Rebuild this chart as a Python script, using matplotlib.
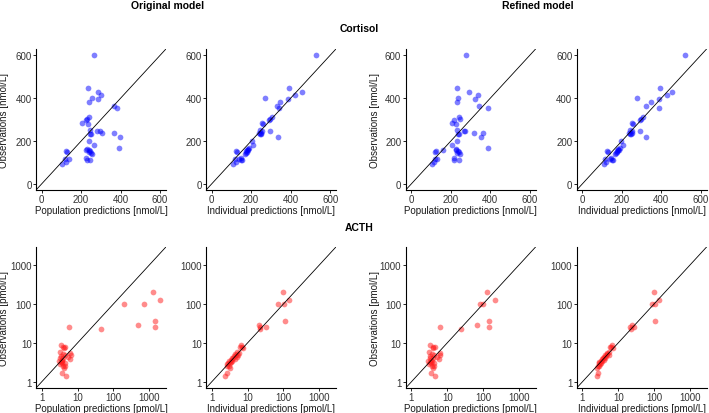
import numpy as np
import matplotlib
matplotlib.use('Agg')
import matplotlib.pyplot as plt
from matplotlib.ticker import FixedLocator, NullLocator

plt.rcParams['font.family'] = ['Liberation Sans', 'DejaVu Sans']

# Cortisol [nmol/L]
cort_obs = [600, 449, 427, 417, 403, 395, 381, 364, 353, 312, 305, 298, 283, 278,
            250, 247, 246, 238, 236, 233, 232, 218, 200, 180, 168, 165, 160, 158,
            155, 150, 145, 142, 152, 151, 120, 118, 118, 112, 112, 103, 92]
cort_pred_orig_pop = [263, 237, 287, 303, 253, 288, 242, 368, 382, 238, 232, 227, 207, 237,
                      243, 280, 297, 368, 305, 248, 243, 395, 238, 263, 390, 232, 223, 240,
                      245, 240, 250, 255, 122, 127, 225, 117, 137, 230, 247, 123, 103]
cort_pred_orig_ind = [528, 393, 458, 420, 272, 387, 347, 332, 342, 305, 298, 292, 255, 260,
                      247, 257, 295, 250, 240, 245, 250, 338, 205, 210, 190, 183, 185, 180,
                      175, 178, 172, 170, 122, 127, 147, 118, 140, 155, 150, 122, 107]
cort_pred_ref_pop = [275, 230, 292, 338, 235, 323, 232, 342, 387, 240, 245, 218, 205, 225,
                     232, 268, 273, 363, 318, 240, 235, 353, 232, 205, 390, 228, 162, 225,
                     235, 240, 230, 245, 123, 120, 217, 118, 130, 218, 240, 115, 105]
cort_pred_ref_ind = [518, 393, 453, 427, 278, 390, 347, 322, 387, 305, 297, 290, 253, 255,
                     243, 252, 293, 250, 237, 245, 240, 322, 198, 205, 190, 183, 185, 180,
                     175, 178, 172, 168, 123, 128, 147, 113, 140, 150, 155, 120, 110]

# ACTH [pmol/L]
acth_obs = [202, 124, 102, 100, 37.5, 28.5, 25.9, 24.9, 22.1,
            8.6, 8.0, 7.8, 7.6, 5.8, 5.6, 5.3, 5.0, 4.8, 4.6, 4.4, 4.2, 4.0,
            3.9, 3.7, 3.5, 3.4, 3.2, 3.1, 3.0, 2.8, 2.6, 2.5, 2.3, 1.73, 1.45]
acth_pred_orig_pop = [1242, 1950, 727, 200, 1414, 473, 1445, 5.94, 45.6,
                      3.5, 4.0, 4.6, 4.2, 3.3, 6.3, 3.9, 6.4, 4.4, 3.4, 5.5, 3.3, 4.0,
                      6.2, 3.6, 3.8, 3.0, 3.4, 3.7, 4.5, 3.3, 4.4, 3.9, 4.2, 3.6, 4.9]
acth_pred_orig_ind = [99, 145, 72, 103, 107, 21, 31.6, 22, 22.5,
                      6.5, 7.0, 6.2, 7.3, 5.2, 5.8, 4.6, 5.5, 4.9, 4.2, 5.0, 4.0, 3.6,
                      4.5, 3.4, 3.8, 3.1, 3.5, 2.9, 3.3, 2.7, 3.0, 2.6, 3.2, 2.63, 2.3]
acth_pred_ref_pop = [128, 214, 81, 96, 148, 65.6, 145, 6.3, 24,
                     3.4, 3.9, 4.5, 4.0, 3.2, 6.5, 3.8, 6.5, 4.2, 3.3, 5.2, 3.3, 3.9,
                     6.0, 3.5, 3.7, 3.0, 3.3, 3.6, 4.3, 3.2, 4.2, 3.8, 4.1, 3.6, 4.7]
acth_pred_ref_ind = [99, 136, 85, 103, 107, 24.8, 27.7, 21.4, 22,
                     6.8, 6.5, 6.0, 7.2, 5.4, 5.0, 4.8, 5.6, 4.4, 4.6, 4.0, 4.3, 3.8,
                     3.5, 4.0, 3.3, 3.6, 3.0, 3.4, 2.9, 3.1, 2.7, 2.9, 2.6, 2.74, 2.63]

cort_ticks = [0, 200, 400, 600]
acth_ticks = [1, 10, 100, 1000]
cort_lim = (-28, 630)
acth_lim = (0.7, 2900)

fig = plt.figure(figsize=(7.09, 4.14), dpi=100)

lefts = [0.0508, 0.2906, 0.5722, 0.8134]
w = 0.1834
row_bottom = [0.5386, 0.0604]
h = 0.341
ylabel_x = [-0.21, None, -0.2, None]


def style(ax, log):
    for s in ['top', 'right']:
        ax.spines[s].set_visible(False)
    for s in ['left', 'bottom']:
        ax.spines[s].set_linewidth(0.8)
    ax.tick_params(labelsize=7, length=2.2, width=0.6, pad=1.0,
                   color='black', labelcolor='#333333')
    if log:
        ax.set_xscale('log')
        ax.set_yscale('log')
        ax.set_xlim(*acth_lim)
        ax.set_ylim(*acth_lim)
        ax.xaxis.set_major_locator(FixedLocator(acth_ticks))
        ax.yaxis.set_major_locator(FixedLocator(acth_ticks))
        ax.set_xticklabels([str(t) for t in acth_ticks])
        ax.set_yticklabels([str(t) for t in acth_ticks])
        ax.xaxis.set_minor_locator(NullLocator())
        ax.yaxis.set_minor_locator(NullLocator())
        lim = acth_lim
    else:
        ax.set_xlim(*cort_lim)
        ax.set_ylim(*cort_lim)
        ax.set_xticks(cort_ticks)
        ax.set_yticks(cort_ticks)
        lim = cort_lim
    ax.plot(lim, lim, color='black', lw=0.6, zorder=3)


panels = [
    (0, 0, cort_pred_orig_pop, cort_obs, 'Population predictions [nmol/L]'),
    (0, 1, cort_pred_orig_ind, cort_obs, 'Individual predictions [nmol/L]'),
    (0, 2, cort_pred_ref_pop, cort_obs, 'Population predictions [nmol/L]'),
    (0, 3, cort_pred_ref_ind, cort_obs, 'Individual predictions [nmol/L]'),
    (1, 0, acth_pred_orig_pop, acth_obs, 'Population predictions [pmol/L]'),
    (1, 1, acth_pred_orig_ind, acth_obs, 'Individual predictions [pmol/L]'),
    (1, 2, acth_pred_ref_pop, acth_obs, 'Population predictions [pmol/L]'),
    (1, 3, acth_pred_ref_ind, acth_obs, 'Individual predictions [pmol/L]'),
]

for row, col, pred, obs, xlabel in panels:
    ax = fig.add_axes([lefts[col], row_bottom[row], w, h])
    color = '#0000ff' if row == 0 else '#ff1a1a'
    ax.scatter(pred, obs, s=17, color=color, alpha=0.5, linewidths=0, zorder=2)
    style(ax, row == 1)
    ax.set_xlabel(xlabel, fontsize=7, color='#1a1a1a')
    ax.xaxis.set_label_coords(0.5, -0.108)
    if ylabel_x[col] is not None:
        unit = '[nmol/L]' if row == 0 else '[pmol/L]'
        ax.set_ylabel('Observations ' + unit, fontsize=7, color='#1a1a1a')
        ax.yaxis.set_label_coords(ylabel_x[col], 0.5)

fig.text(0.237, 0.985, 'Original model', ha='center', va='center', fontsize=7.5, fontweight='bold')
fig.text(0.759, 0.985, 'Refined model', ha='center', va='center', fontsize=7.5, fontweight='bold')
fig.text(0.506, 0.93, 'Cortisol', ha='center', va='center', fontsize=7.5, fontweight='bold')
fig.text(0.506, 0.449, 'ACTH', ha='center', va='center', fontsize=7.5, fontweight='bold')

fig.savefig('out.png', dpi=100)
